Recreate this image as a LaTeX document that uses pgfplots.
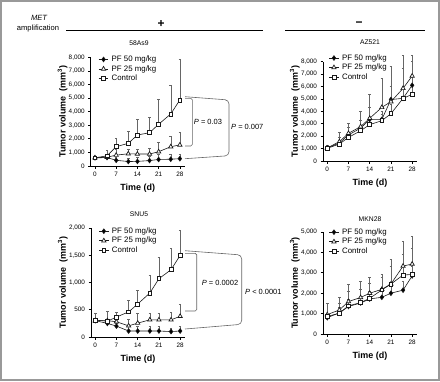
\documentclass[border=0pt]{standalone}
\usepackage{pgfplots}
\usepackage{pgfplotstable}
\pgfplotsset{compat=1.18}
\usepackage{fontspec}
\setmainfont{Liberation Sans}

% ---- data: day, mean, upper error ----
\pgfplotstableread{
x y e
0 600 150
4 620 280
7 420 230
11 330 220
14 340 310
18 400 300
21 480 420
25 500 350
28 540 360
}\tlA
\pgfplotstableread{
x y e
0 600 0
4 650 250
7 800 450
11 900 350
14 880 370
18 880 420
21 1050 700
25 1420 780
28 1550 950
}\tlB
\pgfplotstableread{
x y e
0 600 0
4 750 430
7 1420 620
11 1670 860
14 2280 1180
18 2450 1130
21 3070 1860
25 3830 2130
28 4860 2990
}\tlC

\pgfplotstableread{
x y e
0 1050 250
4 1450 450
7 2100 600
11 2650 650
14 3350 950
18 3350 650
21 4950 1050
25 5050 2450
28 6100 1900
}\trA
\pgfplotstableread{
x y e
0 1050 0
4 1560 740
7 2230 820
11 2770 1280
14 3440 1910
18 4320 2380
21 4780 2870
25 5850 2700
28 6850 1700
}\trB
\pgfplotstableread{
x y e
0 1020 0
4 1370 230
7 1900 400
11 2440 360
14 2930 570
18 3250 550
21 3810 800
25 5050 950
28 5370 850
}\trC

\pgfplotstableread{
x y e
0 300 0
4 250 30
7 200 60
11 110 90
14 110 90
18 110 90
21 110 90
25 100 70
28 110 90
}\blA
\pgfplotstableread{
x y e
0 300 0
4 300 30
7 280 50
11 205 125
14 255 185
18 315 125
21 315 125
25 315 145
28 380 230
}\blB
\pgfplotstableread{
x y e
0 310 130
4 290 180
7 367 93
11 460 207
14 605 245
18 807 318
21 1070 398
25 1235 398
28 1498 453
}\blC

\pgfplotstableread{
x y e
0 800 0
4 1040 260
7 1350 350
11 1520 280
14 1720 380
18 1800 400
21 2000 500
25 2150 450
28 2850 450
}\brA
\pgfplotstableread{
x y e
0 950 550
4 1180 620
7 1590 860
11 1790 810
14 2000 780
18 2190 760
21 2450 1200
25 3330 1220
28 3430 1370
}\brB
\pgfplotstableread{
x y e
0 860 0
4 1020 480
7 1380 720
11 1540 660
14 1750 750
18 2160 640
21 2450 850
25 2890 1010
28 2920 1280
}\brC

\pgfplotsset{
  panel/.style={
    scale only axis, width=94bp,
    xmin=-1.4, xmax=29.6, ymin=0,
    axis x line*=bottom, axis y line*=left,
    axis line style={line width=0.7pt, -},
    tick align=outside, major tick length=2.5bp,
    tick style={line width=0.7pt, black},
    xtick={0,7,14,21,28},
    tick label style={font=\fontsize{6.4}{7}\selectfont},
    /pgf/number format/assume math mode=true,
    /pgf/number format/1000 sep={,},
    scaled y ticks=false,
    xlabel={Time (d)},
    ylabel={Tumor volume\ \ (mm\textsuperscript{3})},
    every axis y label/.style={at={(axis description cs:-0.30,0.5)}, rotate=90, anchor=center,
       font=\fontsize{9}{10}\selectfont\bfseries},
    every axis x label/.style={at={(axis description cs:0.5,0)}, anchor=center, yshift=-22bp,
       font=\fontsize{9}{10}\selectfont\bfseries},
    clip=false,
    legend style={draw=none, fill=none, font=\fontsize{7.9}{8.5}\selectfont,
      row sep=1.3bp, column sep=2.5bp, inner sep=0pt, nodes={inner sep=0.5pt}},
    legend cell align=left,
    legend image code/.code={\draw[mark repeat=2,mark phase=2] plot coordinates {(0cm,0cm) (0.17cm,0cm) (0.34cm,0cm)};},
  },
  err/.style={error bars/.cd, y dir=plus, y explicit, error mark=-,
    error bar style={line width=0.45pt, black!60, solid},
    error mark options={line width=0.45pt, black!60, mark size=1.3pt, rotate=90}},
  sA/.style={black!90, line width=0.6pt, mark=diamond*, mark size=2.4pt, mark options={solid, fill=black}},
  sB/.style={black!90, line width=0.6pt, mark=triangle*, mark size=2.5pt, mark options={solid, fill=white, line width=0.7pt}},
  sC/.style={black!90, line width=0.6pt, mark=square*, mark size=1.9pt, mark options={solid, fill=white, line width=0.7pt}},
}

\begin{document}
\begin{tikzpicture}[x=1bp,y=1bp]
\useasboundingbox (0,0) rectangle (440,381);
\draw[black!40, line width=1.6bp] (0.8,0.8) rectangle (439.2,380.2);

% headers
\node[font=\fontsize{7.6}{8}\selectfont\itshape] at (39,363) {MET};
\node[font=\fontsize{7.6}{8}\selectfont] at (38,352) {amplification};
\draw[line width=0.9bp] (66,350.3) -- (263,350.3);
\draw[line width=0.9bp] (285,350.3) -- (425,350.3);
\node[font=\fontsize{12}{13}\selectfont\bfseries] at (161,357) {+};
\node[font=\fontsize{12}{13}\selectfont\bfseries] at (359,357) {\char"2212};

\node[font=\fontsize{6.8}{7}\selectfont] at (139,338) {58As9};
\node[font=\fontsize{6.8}{7}\selectfont] at (370,339) {AZ521};
\node[font=\fontsize{6.8}{7}\selectfont] at (139,167) {SNU5};
\node[font=\fontsize{6.8}{7}\selectfont] at (370,162) {MKN28};

% top-left 58As9
\begin{axis}[panel, at={(90.7bp,215bp)}, anchor=south west, height=108.7bp,
  ymax=8000, ytick={0,1000,...,8000},
  legend style={at={(axis description cs:0.08,1.02)}, anchor=north west}]
\addplot[sA, err] table[x=x, y=y, y error=e] {\tlA};
\addplot[sB, err] table[x=x, y=y, y error=e] {\tlB};
\addplot[sC, err] table[x=x, y=y, y error=e] {\tlC};
\legend{PF 50 mg/kg, PF 25 mg/kg, Control}
\end{axis}

% top-right AZ521
\begin{axis}[panel, at={(323bp,220bp)}, anchor=south west, height=99.3bp,
  ymax=8000, ytick={0,1000,...,8000},
  legend style={at={(axis description cs:0.06,1.08)}, anchor=north west}]
\addplot[sA, err] table[x=x, y=y, y error=e] {\trA};
\addplot[sB, err] table[x=x, y=y, y error=e] {\trB};
\addplot[sC, err] table[x=x, y=y, y error=e] {\trC};
\legend{PF 50 mg/kg, PF 25 mg/kg, Control}
\end{axis}

% bottom-left SNU5
\begin{axis}[panel, at={(91bp,44bp)}, anchor=south west, height=109bp,
  ymax=2000, ytick={0,500,...,2000},
  legend style={at={(axis description cs:0.08,1.01)}, anchor=north west}]
\addplot[sA, err] table[x=x, y=y, y error=e] {\blA};
\addplot[sB, err] table[x=x, y=y, y error=e] {\blB};
\addplot[sC, err] table[x=x, y=y, y error=e] {\blC};
\legend{PF 50 mg/kg, PF 25 mg/kg, Control}
\end{axis}

% bottom-right MKN28
\begin{axis}[panel, at={(323bp,47bp)}, anchor=south west, height=102bp,
  ymax=5000, ytick={0,1000,...,5000},
  legend style={at={(axis description cs:0.06,1.04)}, anchor=north west}]
\addplot[sA, err] table[x=x, y=y, y error=e] {\brA};
\addplot[sB, err] table[x=x, y=y, y error=e] {\brB};
\addplot[sC, err] table[x=x, y=y, y error=e] {\brC};
\legend{PF 50 mg/kg, PF 25 mg/kg, Control}
\end{axis}

% significance brackets
\begin{scope}[black!60, line width=0.6bp]
\draw[rounded corners=1.5bp] (185,282.7) -- (192.3,282.7) -- (192.3,235) -- (185,235);
\draw[rounded corners=4bp] (185,284.3) -- (229,281) -- (229,225.3) -- (185,222.3);
\draw[rounded corners=1.5bp] (185,127.7) -- (196.7,127.7) -- (196.7,70) -- (185,70);
\draw[rounded corners=4bp] (185,130.3) -- (241.7,126) -- (241.7,56.7) -- (185,52);
\end{scope}
\begin{scope}[font=\fontsize{7.5}{8}\selectfont]
\node at (208,259) {\textit{P} = 0.03};
\node[anchor=west, inner sep=0pt] at (231,254) {\textit{P} = 0.007};
\node at (220,97.7) {\textit{P} = 0.0002};
\node[anchor=west, inner sep=0pt] at (245,89) {\textit{P} \textless{} 0.0001};
\end{scope}
\end{tikzpicture}
\end{document}
